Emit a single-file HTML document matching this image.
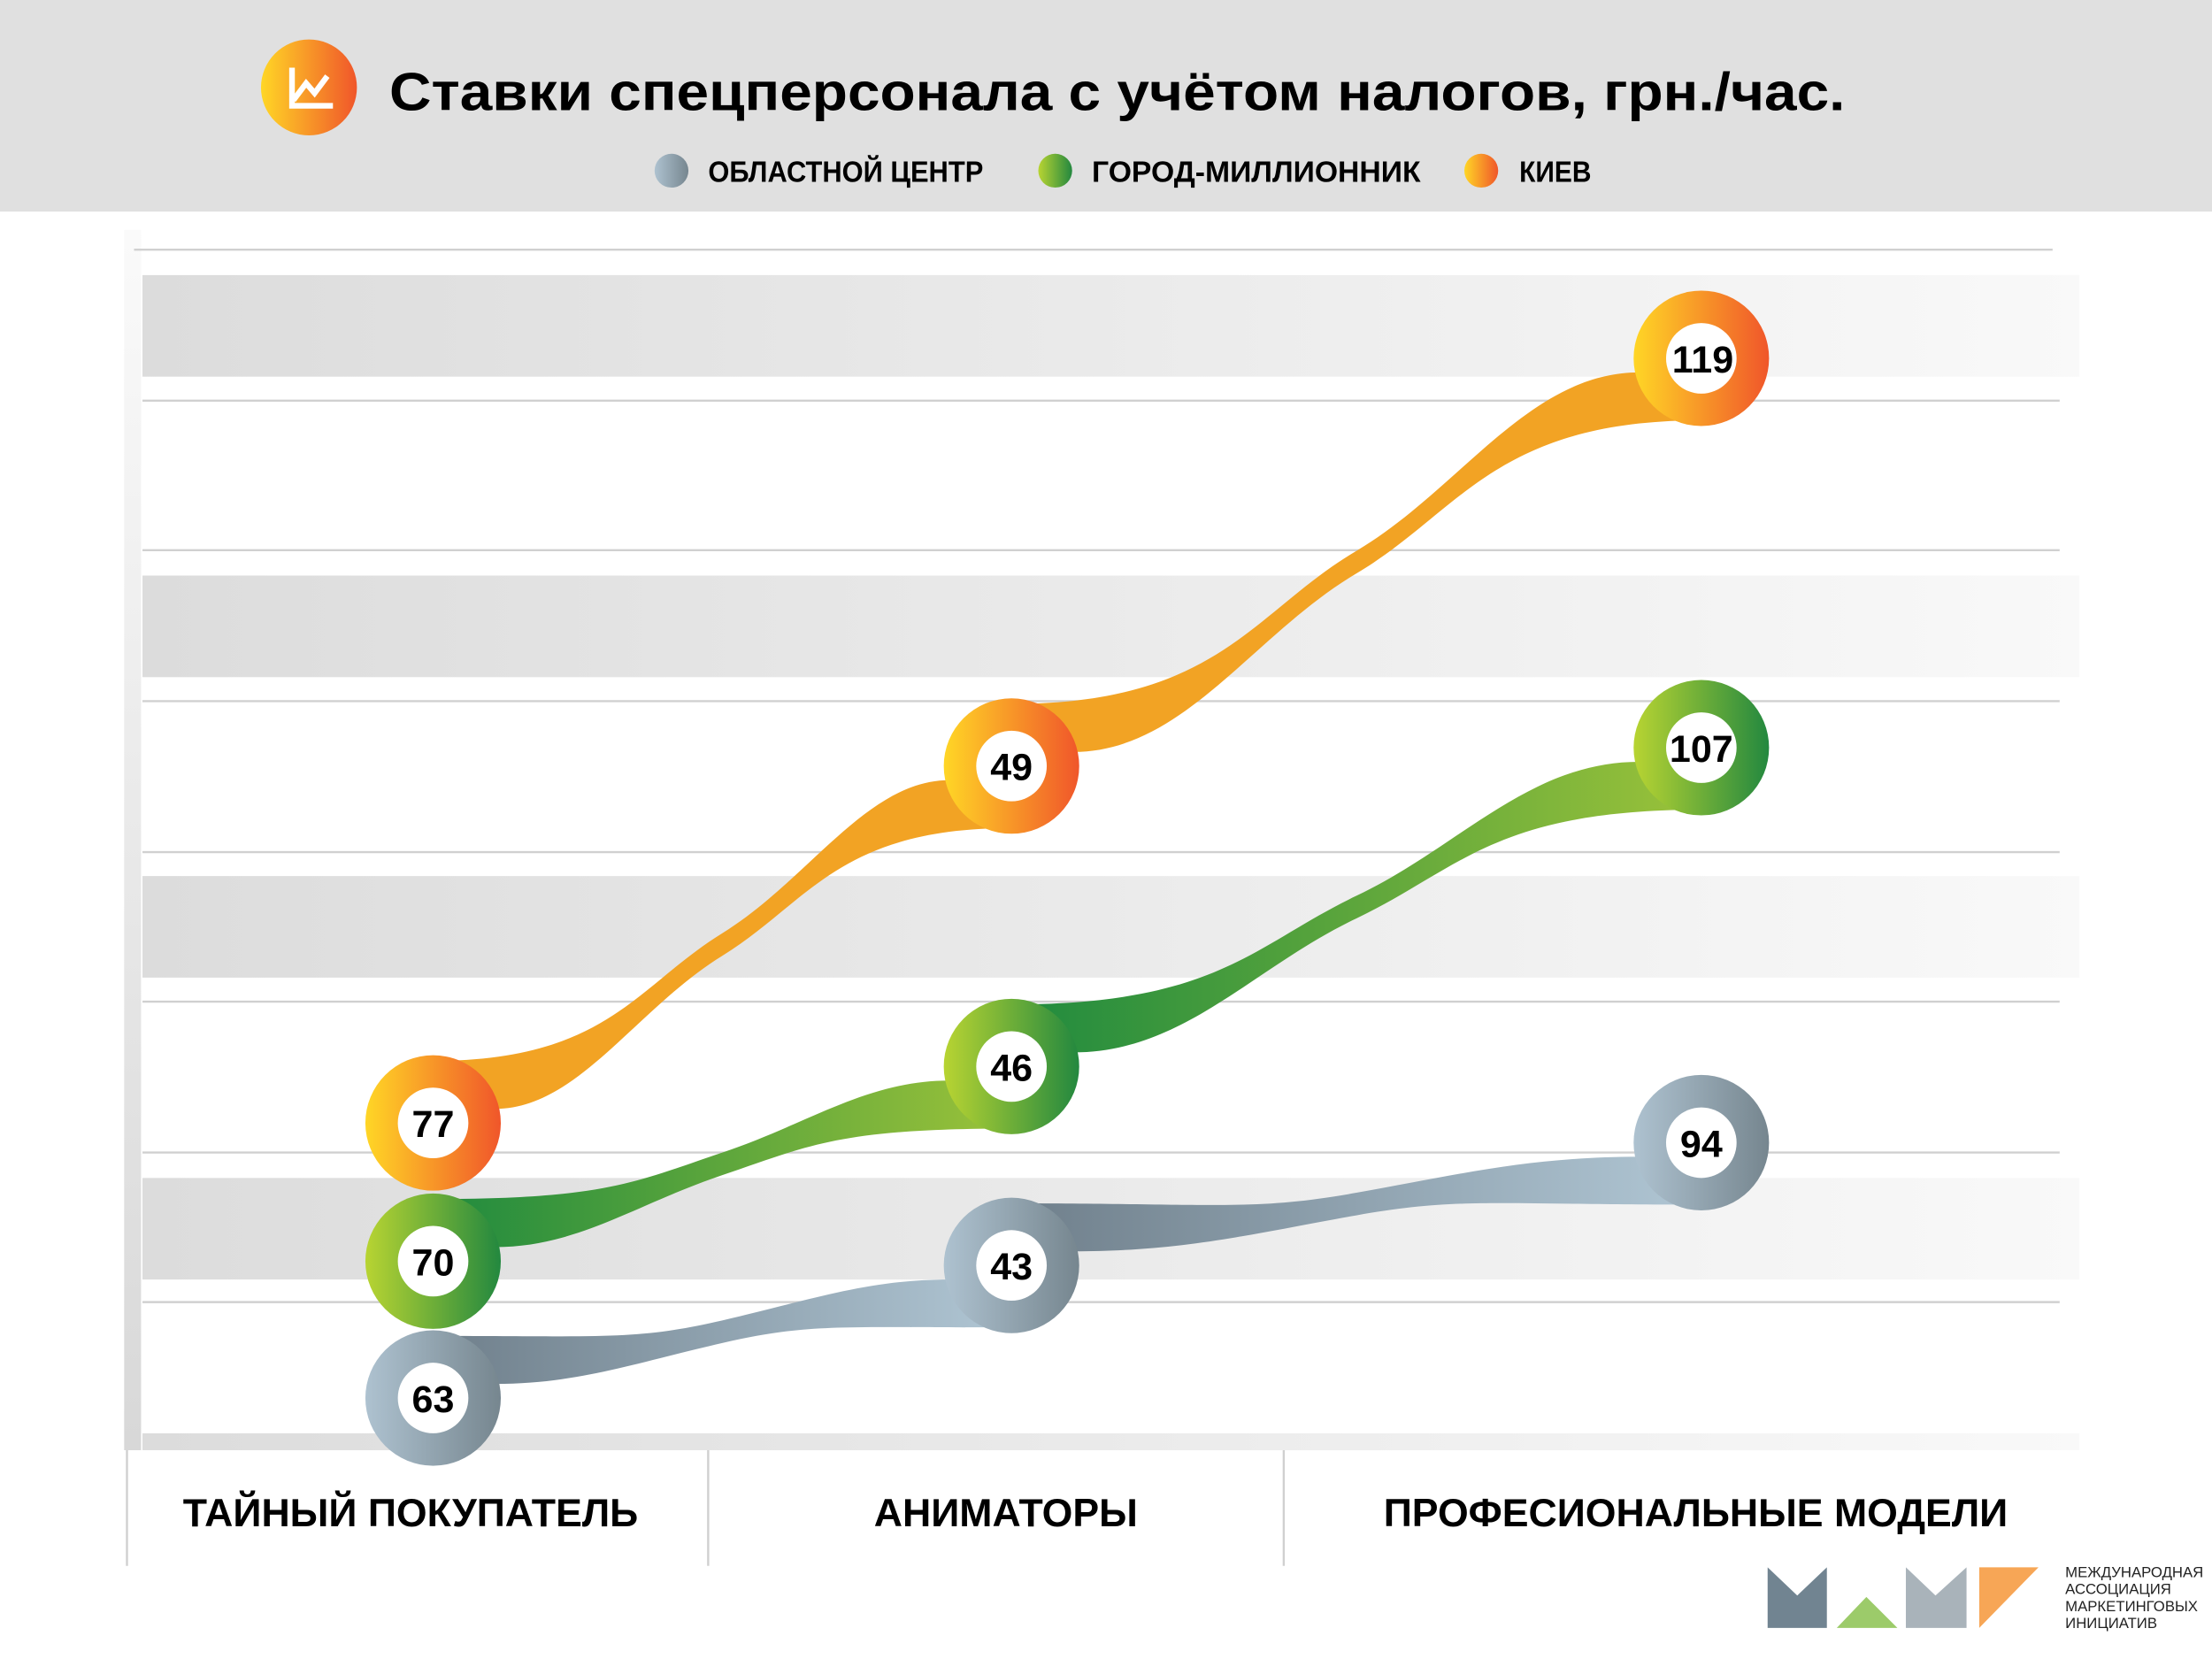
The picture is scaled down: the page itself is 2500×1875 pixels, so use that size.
<!DOCTYPE html>
<html><head><meta charset="utf-8"><style>html,body{margin:0;padding:0;background:#fff}svg{display:block}</style></head>
<body>
<svg width="2500" height="1875" viewBox="0 0 1568 1176" xmlns="http://www.w3.org/2000/svg" font-family="'Liberation Sans', sans-serif">
<defs>
<linearGradient id="go" x1="0" x2="1"><stop offset="0" stop-color="#ffd626"/><stop offset="1" stop-color="#f0562a"/></linearGradient>
<linearGradient id="gg" x1="0" x2="1"><stop offset="0" stop-color="#b8d432"/><stop offset="1" stop-color="#23883f"/></linearGradient>
<linearGradient id="gy" x1="0" x2="1"><stop offset="0" stop-color="#aec2d0"/><stop offset="1" stop-color="#76868f"/></linearGradient>
<linearGradient id="band" x1="0" x2="1"><stop offset="0" stop-color="#dcdcdc"/><stop offset="1" stop-color="#f9f9f9"/></linearGradient>
<linearGradient id="rg" x1="0" x2="1"><stop offset="0" stop-color="#1f8a3e"/><stop offset="1" stop-color="#9bc23a"/></linearGradient>
<linearGradient id="ry" x1="0" x2="1"><stop offset="0" stop-color="#6f7f8b"/><stop offset="1" stop-color="#b0c6d4"/></linearGradient>
<linearGradient id="vbar" x1="0" y1="0" x2="0" y2="1"><stop offset="0" stop-color="#fafafa"/><stop offset="1" stop-color="#d8d8d8"/></linearGradient>
</defs>
<rect x="0" y="0" width="1568" height="150" fill="#e0e0e0"/>
<circle cx="219" cy="62" r="34" fill="url(#go)"/>
<path d="M207 48 V75 H236 M208 71 L217 59 L223 66 L232 54" stroke="#fff" stroke-width="4" fill="none"/>
<text x="276" y="78" font-size="38" font-weight="bold" textLength="1032" lengthAdjust="spacingAndGlyphs">Ставки спецперсонала с учётом налогов, грн./час.</text>
<circle cx="476" cy="121" r="12" fill="url(#gy)"/>
<circle cx="748" cy="121" r="12" fill="url(#gg)"/>
<circle cx="1050" cy="121" r="12" fill="url(#go)"/>
<g font-size="21" font-weight="bold">
<text x="502" y="129" textLength="195" lengthAdjust="spacingAndGlyphs">ОБЛАСТНОЙ ЦЕНТР</text>
<text x="774" y="129" textLength="233" lengthAdjust="spacingAndGlyphs">ГОРОД-МИЛЛИОННИК</text>
<text x="1077" y="129" textLength="51" lengthAdjust="spacingAndGlyphs">КИЕВ</text>
</g>
<rect x="88" y="163" width="12" height="865" fill="url(#vbar)"/>
<g fill="url(#band)">
<rect x="101" y="195" width="1373" height="72"/>
<rect x="101" y="408" width="1373" height="72"/>
<rect x="101" y="621" width="1373" height="72"/>
<rect x="101" y="835" width="1373" height="72"/>
<rect x="101" y="1016" width="1373" height="12"/>
</g>
<g stroke="#d0d0d0" stroke-width="1.5">
<line x1="95" y1="177" x2="1455" y2="177"/>
<line x1="101" y1="284" x2="1460" y2="284"/>
<line x1="101" y1="390" x2="1460" y2="390"/>
<line x1="101" y1="497" x2="1460" y2="497"/>
<line x1="101" y1="604" x2="1460" y2="604"/>
<line x1="101" y1="710" x2="1460" y2="710"/>
<line x1="101" y1="817" x2="1460" y2="817"/>
<line x1="101" y1="923" x2="1460" y2="923"/>
<line x1="90" y1="1028" x2="90" y2="1110"/>
<line x1="502" y1="1028" x2="502" y2="1110"/>
<line x1="910" y1="1028" x2="910" y2="1110"/>
</g>
<g font-size="28" font-weight="bold" text-anchor="middle">
<text x="291" y="1082">ТАЙНЫЙ ПОКУПАТЕЛЬ</text>
<text x="713" y="1082">АНИМАТОРЫ</text>
<text x="1202" y="1082">ПРОФЕСИОНАЛЬНЫЕ МОДЕЛИ</text>
</g>
<g>
<path d="M307,752 C430,752 450.5,699.45 512,661.5 C573.5,623.55 614.5,553 673,553 L717,587 C594,587 573.5,639.55 512,677.5 C450.5,715.45 409.5,786 351,786 Z" fill="#f2a324"/>
<path d="M717,499 C863.7,499 888.15,433.85 961.5,390.5 C1034.85,347.15 1083.75,264 1162,264 L1206,298 C1059.3,298 1034.85,363.15 961.5,406.5 C888.15,449.85 839.25,533 761,533 Z" fill="#f2a324"/>
<path d="M307,850 C430,850 450.5,837.7 512,817 C573.5,796.3 614.5,766 673,766 L717,800 C594,800 573.5,812.3 512,833 C450.5,853.7 409.5,884 351,884 Z" fill="url(#rg)"/>
<path d="M717,712 C863.7,712 888.15,669.9 961.5,635 C1034.85,600.1 1083.75,540 1162,540 L1206,574 C1059.3,574 1034.85,616.1 961.5,651 C888.15,685.9 839.25,746 761,746 Z" fill="url(#rg)"/>
<path d="M307,947 C430,947 450.5,950.1 512,936 C573.5,921.9 614.5,907 673,907 L717,941 C594,941 573.5,937.9 512,952 C450.5,966.1 409.5,981 351,981 Z" fill="url(#ry)"/>
<path d="M717,853 C863.7,853 888.15,858.55 961.5,845.5 C1034.85,832.45 1083.75,820 1162,820 L1206,854 C1059.3,854 1034.85,848.45 961.5,861.5 C888.15,874.55 839.25,887 761,887 Z" fill="url(#ry)"/>
</g>
<g font-size="27" font-weight="bold" text-anchor="middle">
<circle cx="307" cy="796" r="48" fill="url(#go)"/><circle cx="307" cy="796" r="25" fill="#fff"/><text x="307" y="806">77</text>
<circle cx="717" cy="543" r="48" fill="url(#go)"/><circle cx="717" cy="543" r="25" fill="#fff"/><text x="717" y="553">49</text>
<circle cx="1206" cy="254" r="48" fill="url(#go)"/><circle cx="1206" cy="254" r="25" fill="#fff"/><text x="1207" y="264">119</text>
<circle cx="307" cy="894" r="48" fill="url(#gg)"/><circle cx="307" cy="894" r="25" fill="#fff"/><text x="307" y="904">70</text>
<circle cx="717" cy="756" r="48" fill="url(#gg)"/><circle cx="717" cy="756" r="25" fill="#fff"/><text x="717" y="766">46</text>
<circle cx="1206" cy="530" r="48" fill="url(#gg)"/><circle cx="1206" cy="530" r="25" fill="#fff"/><text x="1206" y="540">107</text>
<circle cx="307" cy="991" r="48" fill="url(#gy)"/><circle cx="307" cy="991" r="25" fill="#fff"/><text x="307" y="1001">63</text>
<circle cx="717" cy="897" r="48" fill="url(#gy)"/><circle cx="717" cy="897" r="25" fill="#fff"/><text x="717" y="907">43</text>
<circle cx="1206" cy="810" r="48" fill="url(#gy)"/><circle cx="1206" cy="810" r="25" fill="#fff"/><text x="1206" y="820">94</text>
</g>
<path d="M1253 1111 L1274 1131 L1295 1111 V1154 H1253 Z" fill="#718491"/>
<path d="M1302 1154 L1323 1132 L1345 1154 Z" fill="#9ccb6a"/>
<path d="M1351 1111 L1372 1131 L1394 1111 V1154 H1351 Z" fill="#a9b3ba"/>
<path d="M1403 1111 H1445 L1403 1154 Z" fill="#f7a656"/>
<g font-size="10.5" fill="#222">
<text x="1464" y="1118">МЕЖДУНАРОДНАЯ</text>
<text x="1464" y="1130">АССОЦИАЦИЯ</text>
<text x="1464" y="1142">МАРКЕТИНГОВЫХ</text>
<text x="1464" y="1154">ИНИЦИАТИВ</text>
</g>
</svg>
</body></html>
